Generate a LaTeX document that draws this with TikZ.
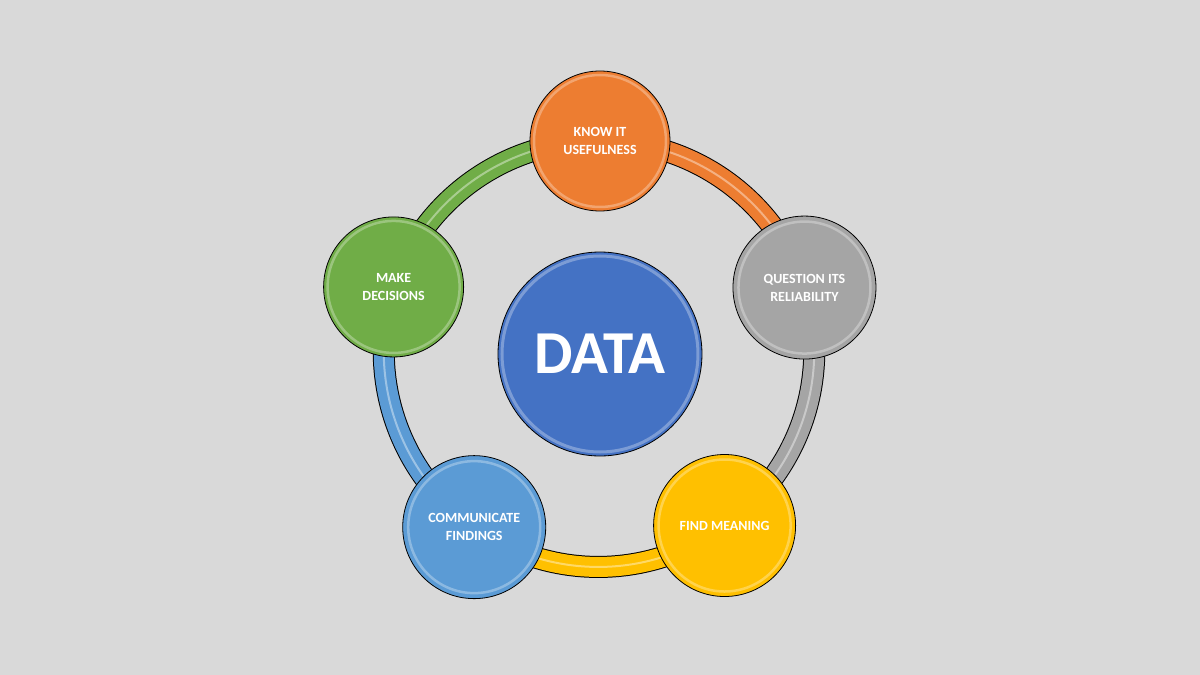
\documentclass[tikz,border=0pt]{standalone}
\usepackage{fontspec}
\setmainfont{Carlito}
\usetikzlibrary{positioning}
\definecolor{bgGray}{HTML}{D9D9D9}
\definecolor{kOrange}{HTML}{ED7D31}
\definecolor{qGray}{HTML}{A5A5A5}
\definecolor{fYellow}{HTML}{FFC000}
\definecolor{cBlue}{HTML}{5B9BD5}
\definecolor{mGreen}{HTML}{70AD47}
\definecolor{dBlue}{HTML}{4472C4}

\begin{document}
\begin{tikzpicture}[x=1pt,y=1pt,
  bubble/.style={circle,draw=black,line width=0.8pt,minimum size=140pt,inner sep=0pt,
    text=white,align=center,font=\bfseries\fontsize{14}{18}\selectfont,
    path picture={\draw[white,opacity=0.3,line width=2.5pt]
      (path picture bounding box.center) circle (66pt);}},
  hub/.style={bubble,minimum size=204pt,font=\bfseries\fontsize{61}{61}\selectfont,
    path picture={\draw[white,opacity=0.3,line width=3pt]
      (path picture bounding box.center) circle (98pt);}}]
  \fill[bgGray] (-600,-321) rectangle (600,354);
  \useasboundingbox (-600,-321) rectangle (600,354);
  % ring positions
  \coordinate (k) at (90:213);
  \coordinate (q) at (18:215);
  \coordinate (f) at (-54:212);
  \coordinate (c) at (-126:214);
  \coordinate (m) at (162:217);
  % ring bands
  \foreach \a/\b/\col in {k/q/kOrange,q/f/qGray,f/c/fYellow,c/m/cBlue,m/k/mGreen}{
    \draw[line width=22pt,black] (\a) to[bend left=36,looseness=0.94] (\b);
    \draw[line width=20pt,\col] (\a) to[bend left=36,looseness=0.94] (\b);
    \draw[line width=2pt,white,opacity=0.4] (\a) to[bend left=36,looseness=0.94] (\b);
  }
  % circles
  \node[hub,fill=dBlue] (data) at (0,0) {DATA};
  \node[bubble,fill=kOrange] (know) at (k) {KNOW IT\\USEFULNESS};
  \node[bubble,fill=qGray,minimum size=143pt] (quest) at (q) {QUESTION ITS\\RELIABILITY};
  \node[bubble,fill=fYellow,minimum size=142pt] (find) at (f) {FIND MEANING};
  \node[bubble,fill=cBlue,minimum size=143pt] (comm) at (c) {COMMUNICATE\\FINDINGS};
  \node[bubble,fill=mGreen] (make) at (m) {MAKE\\DECISIONS};
\end{tikzpicture}
\end{document}
